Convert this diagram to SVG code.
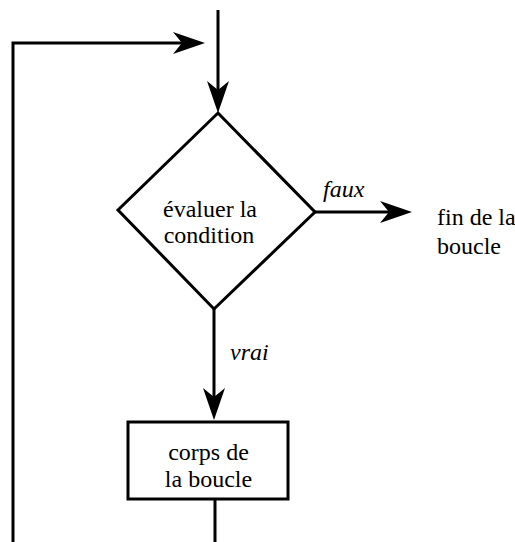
<svg xmlns="http://www.w3.org/2000/svg" width="515" height="542" viewBox="0 0 515 542">
  <style>
    .shape { fill: #fff; stroke: #000; stroke-width: 3; }
    .wire { fill: none; stroke: #000; stroke-width: 3; }
    .head { fill: #000; stroke: none; }
  </style>
  <defs>
    <!-- notched arrowhead, tip at origin, pointing along +x -->
    <path id="ah" class="head" d="M0,0 L-32,-11 L-23,0 L-32,11 Z"/>
  </defs>

  <g font-family="Liberation Serif, serif" font-size="24" fill="#000">
    <g id="connectors">
      <!-- entry into the test -->
      <path class="wire" d="M218,10 V100"/>
      <use href="#ah" transform="translate(218,113) rotate(90)"/>
      <!-- loop back from the body -->
      <path class="wire" d="M13,542 V43 H190"/>
      <use href="#ah" transform="translate(205,43)"/>
      <!-- false branch -->
      <path class="wire" d="M315,212 H398"/>
      <use href="#ah" transform="translate(412,212)"/>
      <!-- true branch -->
      <path class="wire" d="M214,309 V406"/>
      <use href="#ah" transform="translate(214,420) rotate(90)"/>
      <!-- exit of the body -->
      <path class="wire" d="M215,499 V542"/>
      <text x="323" y="197" font-style="italic">faux</text>
      <text x="230" y="360" font-style="italic">vrai</text>
    </g>

    <g id="condition">
      <polygon class="shape" points="218,113 315,212 214,309 118,210"/>
      <text x="210" y="217" text-anchor="middle">évaluer la</text>
      <text x="209" y="243" text-anchor="middle">condition</text>
    </g>

    <g id="corps">
      <rect class="shape" x="128" y="422" width="160" height="77"/>
      <text x="208.5" y="460" text-anchor="middle">corps de</text>
      <text x="208.5" y="487" text-anchor="middle">la boucle</text>
    </g>

    <g id="fin">
      <text x="437" y="225">fin de la</text>
      <text x="437" y="254">boucle</text>
    </g>
  </g>
</svg>
